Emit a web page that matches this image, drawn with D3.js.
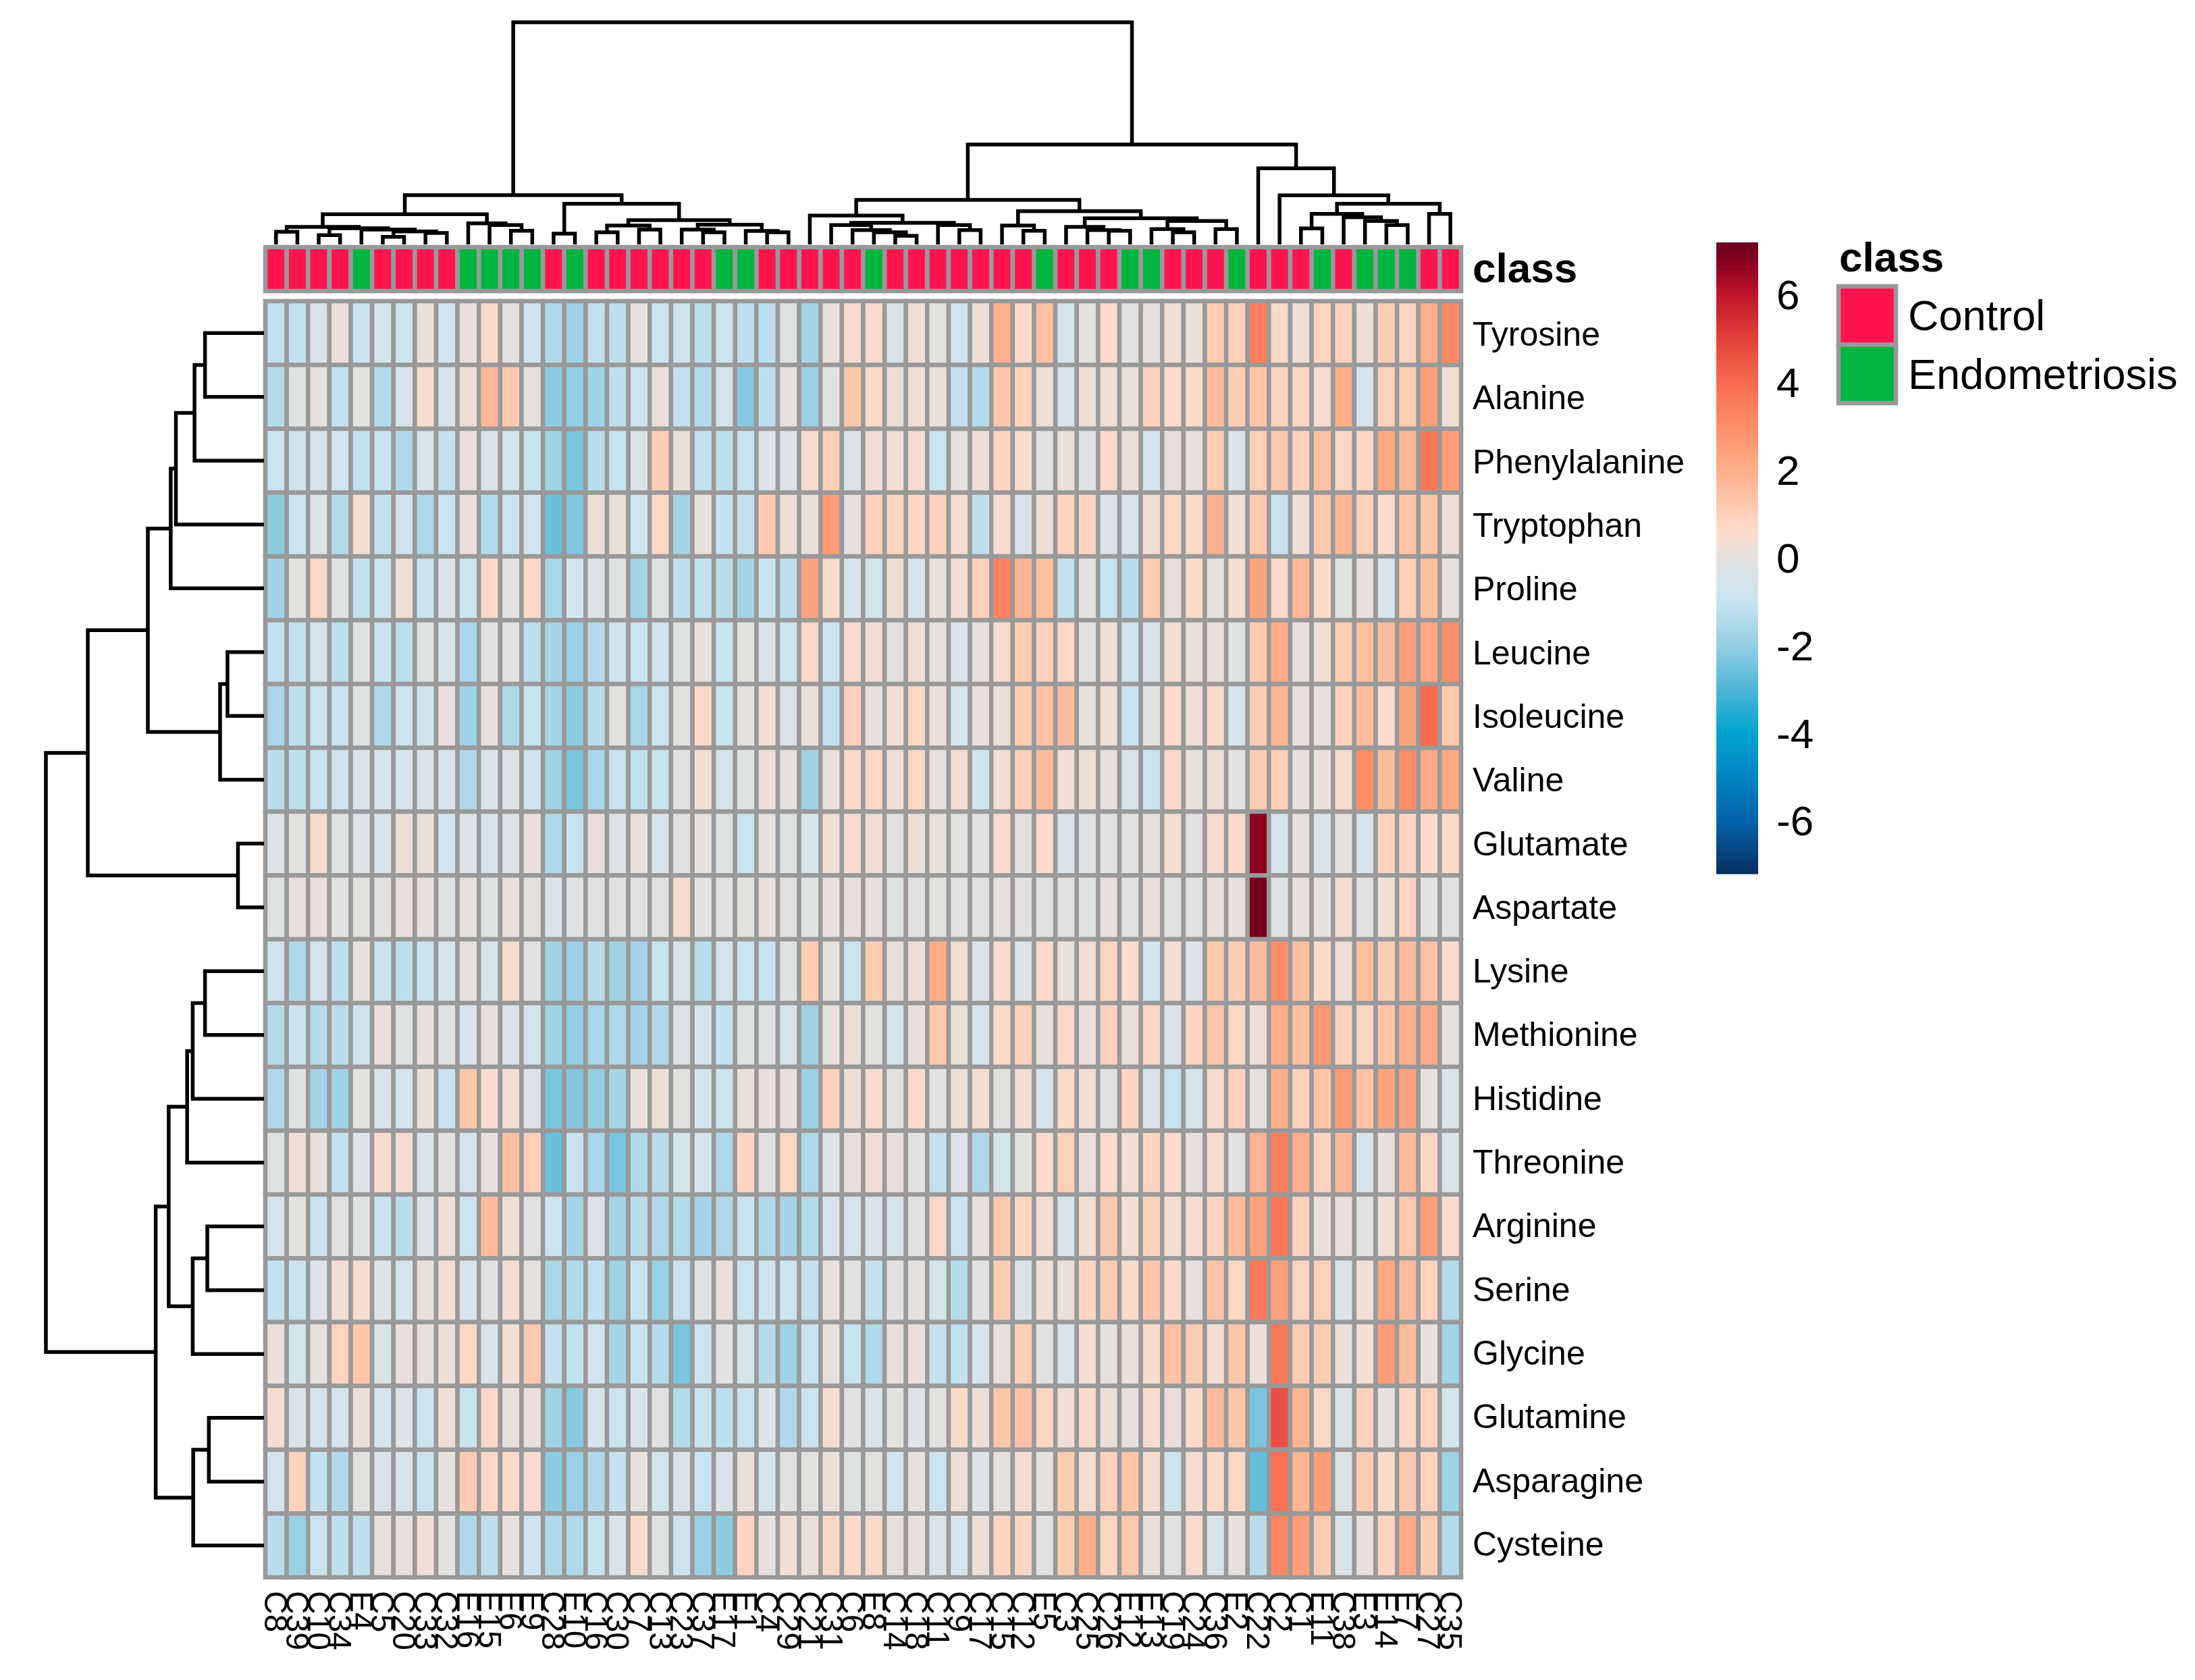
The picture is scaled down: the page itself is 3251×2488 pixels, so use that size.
<!DOCTYPE html>
<html>
<head>
<meta charset="utf-8">
<script src="https://cdn.jsdelivr.net/npm/d3@7"></script>
<style>
  html,body{margin:0;background:#fff;}
  svg{display:block;font-family:"Liberation Sans",Arial,sans-serif;filter:blur(0.7px);}
</style>
</head>
<body>
<div id="chart"></div>
<script>
const rowLabels=["Tyrosine","Alanine","Phenylalanine","Tryptophan","Proline","Leucine","Isoleucine","Valine","Glutamate","Aspartate","Lysine","Methionine","Histidine","Threonine","Arginine","Serine","Glycine","Glutamine","Asparagine","Cysteine"];
const colLabels=["C8","C39","C10","C34","E4","C5","C20","C33","C32","E16","E15","E6","E9","C28","E10","C16","C30","C7","C13","C23","C37","E17","E1","C4","C29","C21","C31","C6","E8","C14","C18","C11","C9","C17","C15","C12","E5","C3","C25","C26","E12","E13","C19","C24","C36","E2","C22","C2","C1","E11","C38","E3","E14","E7","C27","C35"];
const classNames=["Control","Endometriosis"];
const classColors=["#ff1450","#00b440"];
const colorTicks=[6,4,2,0,-2,-4,-6];

// one row per amino acid, columns in colLabels order
const values=[
[-1.1,-1.1,-0.4,0.2,-1,-0.6,-0.9,0.2,-0.6,0.1,0.6,-0.05,-0.8,-1.5,-1.8,-1.1,-1.2,0,-0.9,-0.8,-1.2,-0.9,-1.2,-1.2,-0.2,-1.7,0.2,0.5,0.5,-0.4,0.3,-0.05,-0.7,0.2,1.9,0.6,1.4,-0.6,0,0.5,-0.1,0,0.3,0.2,1.1,1,3.4,0.6,0.3,0.8,0.9,0.2,1.1,0.8,2,3.2],
[-1.4,-0.2,0,-1.1,-0.1,-1.4,-0.5,0.4,-0.4,0.2,1.7,1.2,0,-2.1,-2,-1.8,-1.2,-0.8,0.2,-1.1,-1.4,-0.6,-2.2,-1.2,0.05,-1.9,-0.05,1.3,0.6,0.2,0.3,0.2,-1.1,-1.4,1.3,0.9,0.3,-0.5,0.2,0.3,0.2,0.9,0.5,0.6,1.6,1.1,1.3,0.8,0.8,0.4,2,-0.5,0.9,1.1,2.5,0.3],
[-0.9,-0.8,-0.5,-0.7,-1.1,-1,-1.5,-0.6,-1.1,0.1,-0.4,-0.7,-1,-1.8,-2.4,-1.3,-1,-0.5,1.1,0.2,-1.1,-1.2,-1,-0.3,-0.3,0.4,1,-0.3,0.3,0.3,0.4,-0.9,0,0.2,0.8,0.5,-0.1,0.2,-0.2,0.6,0.2,-0.5,0.1,0.05,1.1,-0.4,1,1.2,0.9,1.4,0.7,0.7,2.2,1.7,3.6,2.5],
[-2.1,-0.9,-0.3,-1.4,0.4,-1.1,-0.8,-1.5,-0.9,0.2,-1.4,-0.9,-0.7,-2.6,-2.3,0.2,0.2,-0.7,0.7,-1.7,0.1,-1.1,-1.1,1.1,0.2,0.2,2.6,0,0.9,0.8,0.7,0.9,0.4,-1.2,0.4,-0.4,0.2,0.8,0.7,-0.3,-0.4,0.3,0.7,0.6,1.9,0.3,1.2,-1,0.3,1.2,1.8,1,0.5,1.3,1.3,0.2],
[-1.8,-0.1,0.7,-0.2,-1.1,-0.9,0.3,-1,-0.4,-0.9,0.7,-0.1,0.6,-1.6,-0.6,-0.3,-0.2,-1.7,-0.2,-1.2,-1.1,-1.3,-1.7,-1,-1.2,2.3,0.6,-0.5,-0.7,0.2,-0.5,0.2,0.4,1,3.3,1.8,1.5,-1.1,-0.1,-1,-1.3,1.1,0.1,0.6,0,0.4,2.3,0.6,1.7,0.6,-0.1,0.1,-0.5,1,1.5,0.1],
[-1.1,-1.1,-0.6,-1.2,-0.2,-1,-1.2,-0.2,-0.4,-1.6,-0.05,-0.1,-1.2,-1.7,-1.9,-1.4,-0.8,-0.9,-0.8,-0.2,0.1,-1,-0.1,-0.4,-0.9,0.7,-0.8,0.5,0.3,-0.05,0.3,0,-0.3,0,0.4,1.1,1,0.7,-0.05,0.3,-0.8,-0.5,0.4,0.2,0.1,-0.2,1.2,2.1,0.1,0.3,1.1,1.5,1.6,2.5,2.2,3],
[-1.6,-1.2,-0.9,-1,-0.2,-1.5,-0.9,-0.8,0.1,-1.8,0.1,-1.5,-1,-1.7,-2.1,-1.3,-0.1,-1.6,-0.9,-0.1,0.7,-1,0,0.3,-0.4,0.2,-1.1,0.9,0.1,0.3,0.7,0.2,-0.4,0.1,0.15,1.1,1.4,1.6,0.1,0.3,-1,-0.1,0.5,0.3,0.6,-0.6,1.1,1.8,0.1,0,0.9,1.6,0.5,2.3,4,1.2],
[-1.3,-1.2,-1,-0.8,-0.4,-0.5,-0.5,-0.4,-0.5,-1.5,-0.4,-0.2,-0.8,-1.8,-2.4,-1.6,-1,-1.1,-1,-0.05,0.3,-0.6,-0.2,0.2,0,-1.8,0.2,0.6,0.7,0.3,0.7,0.1,0.4,-0.8,0.3,1,1.6,0.3,0.2,0.1,-0.6,-0.9,0.6,0.15,0.2,-0.1,1.1,1,0,0.2,0.5,3,1.6,3,2.1,2.2],
[-0.3,-0.1,0.6,-0.2,-0.3,-0.5,0.2,0.15,-0.6,-0.3,-0.6,-0.2,0.1,-1.5,-1,0.1,-0.3,0.1,-0.4,-0.05,0,-0.2,-0.9,0,-0.2,-0.6,0.3,0.5,0.3,-0.1,0.2,0.15,-0.1,-0.1,0.5,-0.05,0.5,-0.5,-0.2,-0.1,-0.1,0,0.4,-0.05,0.5,0.6,6.7,-0.6,0.05,-0.4,0.05,-0.5,0.8,0.7,0.6,0.6],
[-0.2,0.1,0.1,-0.1,-0.05,-0.05,0.1,0.05,-0.2,0.05,-0.2,0.1,0,-0.5,-0.2,-0.1,-0.05,-0.05,-0.1,0.4,-0.1,-0.1,-0.05,0.05,-0.05,-0.2,0,0.1,0,-0.2,-0.05,-0.05,-0.05,-0.05,0,-0.05,-0.05,-0.05,-0.15,0.1,-0.05,0.1,-0.05,-0.05,0.1,0.05,7,-0.2,0.05,0,0.3,-0.05,0.3,0.8,-0.05,-0.05],
[-0.8,-1.5,-0.6,-1.2,0.05,-1,-1.2,-1,-0.5,0.05,-0.6,0.5,-0.15,-1.8,-1.9,-1.3,-1.8,-1.7,-1,-0.5,-1.3,-0.6,-0.9,-1,-0.2,1.1,0.05,-0.9,1.1,0.1,0.2,2,0.3,-0.4,0.5,-0.3,0.6,0.15,0.3,0.8,0.5,-0.7,0.4,-0.3,1.2,1.1,1.6,3,1.5,0.6,0.3,1.5,1.1,1.6,1.4,0.5],
[-1.4,-1,-1.4,-1.3,-0.8,0.1,-0.2,0.1,-0.2,-0.5,0.05,-0.4,-0.6,-1.8,-2,-1.6,-1.5,-1.7,-1.5,-0.3,-0.6,-1.1,-0.15,-0.2,-0.5,-1.8,0.1,0.15,-0.05,-0.5,0.1,1.2,0.15,-0.5,0.6,0.9,0.05,0.7,0.2,0.9,0.15,0.7,-0.4,0.8,1.3,0.7,0.2,2,1.5,2.7,0.9,0.8,1.3,1.9,2.1,0],
[-1.5,-0.2,-1.7,-1.8,-0.1,-0.4,-0.7,0.15,-1,1.3,0.5,0.3,-0.3,-2.4,-2.3,-2,-1.7,0.2,0.2,-0.1,-0.7,-0.9,0.15,0.1,0.1,-1.9,0.9,0.2,0.5,-0.1,0.5,-0.1,0.2,0.4,-0.05,0.3,-0.5,0.6,0.3,-0.05,0.8,-0.5,-1,-0.6,0.6,0.9,0,2,0.9,1.3,2.6,1.4,2.3,2.3,0,-0.4],
[-0.2,0.3,0.15,-1.1,-0.3,0.5,0.4,-0.4,-0.05,-0.6,0.05,1.5,1,-2.6,-1,-1.6,-2.4,-1.5,-1.3,-0.7,-0.6,-1.5,0.8,-0.05,0.7,-1.5,-0.3,0.1,0.3,0.1,-0.1,-1.1,-0.3,-1.5,-0.7,-0.1,0.5,1,0.2,0.5,0.3,0.8,0.5,0.05,0.5,-0.05,1.8,3.4,2,0.8,1.7,-0.5,0.1,1.6,0.8,-0.4],
[-0.5,-0.1,-1,-0.15,-0.2,-1,-1.3,-0.3,0.3,-0.9,1.6,0.3,-0.1,-0.9,-1.7,-0.3,-1.7,-1.3,-1.5,-1.4,-1.7,-1.5,-1,-1.5,-1.7,-1.4,-0.5,-0.6,-0.4,-0.4,-0.1,0.7,-0.9,0,1.2,0.8,0.4,-0.5,0.3,1.2,0.3,0.9,0.4,0.4,0.8,1.6,2.4,3.7,0.9,0.2,0.1,-0.1,0.3,1.2,2.5,0.5],
[-1.1,-1,-0.3,0.3,0.4,-0.3,-0.6,0.2,0.3,-0.4,-0.05,0.3,0.05,-1.6,-1.5,-1.1,-1.8,-1,-1.9,-1,-0.2,0.15,-0.9,-0.8,-0.9,-1.1,0.1,-0.05,-1.1,-0.1,0,-0.6,-1.4,-0.1,1.1,-0.4,0.3,0.2,0.8,1.1,0.6,1.3,0.6,0,1.4,0.7,3.6,2.4,0.8,1,-0.5,0.3,2.2,1.6,0.9,-1.4],
[0.15,-0.7,0.05,0.9,1.3,-0.4,0.1,0.1,0.15,0.7,-0.4,0.3,1.2,-1.1,-1.1,-0.7,-1.7,-1,-1.4,-2.4,-0.9,-0.1,-0.6,-1.4,-1.8,-1,0.1,-1,-1.5,0.1,0.2,-1.1,-1.1,-0.5,0.1,1,-0.05,-0.4,0.3,0,0.15,0.6,1.4,1.1,0.4,1.3,0.2,3.6,1.1,1.1,0.2,0.4,2.6,1.6,0.1,-1.7],
[0.4,-0.4,-0.6,-0.6,0.2,-0.5,-0.3,-0.9,0.25,-1,0.7,0.05,0.1,-1.8,-2.2,-0.6,-0.9,-0.4,-0.15,-1.4,-1,-1.2,-1,-0.3,-1.5,-0.9,0.4,-0.05,-0.5,-0.1,-0.3,-0.05,0.6,0.2,1.3,1.4,0.8,0.3,0.6,0.15,0.1,0.5,0.2,0.6,1.6,1.3,-2.4,4.6,1.8,0.7,-0.5,0.9,0,0.7,0.9,-0.7],
[-0.6,0.9,-1.1,-1.5,-0.05,-0.4,-0.5,-1,0.05,1.1,0.7,0.6,0.5,-2.1,-1.9,-1.5,-1.1,0,-0.7,-0.5,-0.9,-0.4,0.15,-0.5,-0.15,-0.05,0.15,-0.2,-0.05,-0.7,0.05,-0.9,0.2,-0.3,0.05,0.3,0.05,1.1,0.4,0.9,1.3,0.4,-0.8,0.4,0.6,0.7,-2.7,3.8,1.8,2.5,-0.4,1.1,0.6,1.2,0.9,-1.8],
[-1.3,-1.9,-0.9,-1.2,-1.2,0.1,0,0.3,-0.1,-1.5,-1.2,0,-0.8,-1.5,-1.5,-1,-0.4,0.6,-0.2,-0.8,-1.9,-2.1,0.8,0,0.3,0.2,0.7,0.6,0.6,0.1,0.1,-0.5,-0.5,0.2,0.8,0.7,-0.05,1.1,2,0.8,1.2,0.15,-0.05,0.5,-0.4,0.1,-1.3,3.2,2.5,1.1,-0.4,0.1,0.8,2.1,1.1,-1.4]
];

// colour key: value stops and the colours
const colorStops=[-7.2,-6,-5,-4,-3,-2,-1,-0.5,0,0.5,1,2,3,4,5,6,6.7,7.2];
const colorRange=["#053061","#0362ac","#0085c0","#00a4d0","#4fb7d6","#95cee3","#c8e3ef","#d8e4ea","#e4e1df","#f9dccf","#ffd0b8","#ffae8a","#ff8e68","#f96a50","#e2403a","#c0142b","#8b001f","#67001f"];

// dendrograms as [height, left, right], a bare number is a leaf index
const colTree=[329,
  [73,
    [44.7,
      [26,[18.7,0,1],[24,[13.7,2,3],[22,4,[19.3,[11.3,5,6],[17,7,8]]]]],
      [31.3,9,[28.7,10,[20.3,11,12]]]],
    [60.3,[16,13,14],
      [36,[28,[18,15,16],[22,17,18]],[29.3,[22,19,[18,20,21]],[20,22,[18,23,24]]]]]],
  [148,
    [66,
      [42.7,25,[32,[28.7,26,[21.3,27,[18,28,[12.7,29,30]]]],[28.7,31,[21.3,32,33]]]],
      [49.3,[28,34,[20.3,35,36]],
        [38.7,[26,37,[21.3,38,[20.3,39,40]]],[34.7,[22.7,41,[18,42,43]],[22.7,44,45]]]]],
    [112.7,46,[72.7,47,[60.3,[45.3,[23.7,48,49],[40.3,50,[34.7,51,[28.7,52,53]]]],[45.3,54,55]]]]]];
const rowTree=[324.3,
  [262,
    [172.7,[138.7,[131,[103.3,[87.7,0,1],2],3],4],[65.3,[54.3,5,6],7]],
    [38.7,8,9]],
  [161,
    [141.7,[114.3,[106,[87.7,10,11],12],13],[106,[84.3,14,15],16]],
    [105.3,[82,17,18],19]]];

const W=3251,H=2488;
const GRID="#999999", CELL_SW=6.5, TREE_SW=5.5;
const L=393,R=2164,T=446,B=2336;

const svg=d3.select("#chart").append("svg").attr("width",W).attr("height",H).attr("viewBox",`0 0 ${W} ${H}`);
svg.append("rect").attr("width",W).attr("height",H).attr("fill","#fff");

const xSc=d3.scaleBand().domain(colLabels).range([L,R]);
const ySc=d3.scaleBand().domain(rowLabels).range([T,B]);
const colorSc=d3.scaleLinear().domain(colorStops).range(colorRange).clamp(true);
const classSc=d3.scaleOrdinal().domain(["C","E"]).range(classColors);

// heat cells
const cells=rowLabels.flatMap((r,i)=>colLabels.map((c,j)=>({r,c,v:values[i][j]})));
svg.append("g").selectAll("rect").data(cells).join("rect")
  .attr("x",d=>xSc(d.c)).attr("y",d=>ySc(d.r))
  .attr("width",xSc.bandwidth()).attr("height",ySc.bandwidth())
  .attr("fill",d=>colorSc(d.v)).attr("stroke",GRID).attr("stroke-width",CELL_SW);

// class strip
const stripY=d3.scaleBand().domain(["class"]).range([366,431]);
svg.append("g").selectAll("rect").data(colLabels).join("rect")
  .attr("x",d=>xSc(d)).attr("y",stripY("class"))
  .attr("width",xSc.bandwidth()).attr("height",stripY.bandwidth())
  .attr("fill",d=>classSc(d[0])).attr("stroke",GRID).attr("stroke-width",CELL_SW);

// dendrograms
function treePath(node,leafPos,hSc,horizontal,out){
  if(typeof node==="number") return {p:leafPos(node),h:hSc(0)};
  const a=treePath(node[1],leafPos,hSc,horizontal,out);
  const b=treePath(node[2],leafPos,hSc,horizontal,out);
  const h=hSc(node[0]);
  out.push(horizontal
    ?`M${a.p},${a.h}V${h}H${b.p}V${b.h}`
    :`M${a.h},${a.p}H${h}V${b.p}H${b.h}`);
  return {p:(a.p+b.p)/2,h};
}
const colH=d3.scaleLinear().domain([0,329]).range([362,33]);
const rowH=d3.scaleLinear().domain([0,324.3]).range([L-2,68]);
const colSegs=[],rowSegs=[];
treePath(colTree,i=>xSc(colLabels[i])+xSc.bandwidth()/2,colH,true,colSegs);
treePath(rowTree,i=>ySc(rowLabels[i])+ySc.bandwidth()/2,rowH,false,rowSegs);
svg.append("g").selectAll("path").data(colSegs.concat(rowSegs)).join("path")
  .attr("d",d=>d).attr("fill","none").attr("stroke","#000")
  .attr("stroke-width",TREE_SW).attr("stroke-linejoin","miter");

// row labels sit on a slightly tighter pitch than the cells
const labelY=d3.scaleBand().domain(rowLabels).range([449,2335]);
const rowAxis=svg.append("g").attr("transform",`translate(${R+17},0)`)
  .call(d3.axisRight(labelY).tickSize(0).tickPadding(0));
rowAxis.select(".domain").remove();
rowAxis.selectAll("text").attr("font-size",50).attr("font-family","'Liberation Sans'").attr("fill","#000");

// column labels, rotated and overlapping like the original
const colAxis=svg.append("g").attr("transform",`translate(0,2356)`)
  .call(d3.axisBottom(xSc).tickSize(0).tickPadding(0));
colAxis.select(".domain").remove();
colAxis.selectAll("text")
  .attr("font-size",48).attr("font-family","'Liberation Sans'").attr("fill","#000")
  .attr("text-anchor","start").attr("dy",null).attr("y",0)
  .attr("dominant-baseline","central").attr("transform","rotate(90)");

svg.append("text").attr("x",R+17).attr("y",396).attr("dominant-baseline","central")
  .attr("font-size",62).attr("font-weight","bold").attr("fill","#000").text("class");

// colour bar
const barY=d3.scaleLinear().domain([7.2,-7.2]).range([359,1294]);
const barSteps=d3.range(-7.2,7.2,0.05);
svg.append("g").selectAll("rect").data(barSteps).join("rect")
  .attr("x",2542).attr("width",62)
  .attr("y",d=>barY(d+0.05)).attr("height",d=>barY(d)-barY(d+0.05)+0.6)
  .attr("fill",d=>colorSc(d));
const barAxis=svg.append("g").attr("transform","translate(2631,1)")
  .call(d3.axisRight(barY).tickValues(colorTicks).tickSize(0).tickPadding(0).tickFormat(d=>d<0?"-"+(-d):d));
barAxis.select(".domain").remove();
barAxis.selectAll("text").attr("font-size",62).attr("font-family","'Liberation Sans'").attr("fill","#000");

// class legend
svg.append("text").attr("x",2724).attr("y",380).attr("dominant-baseline","central")
  .attr("font-size",62).attr("font-weight","bold").attr("fill","#000").text("class");
const legY=d3.scaleBand().domain(classNames).range([424,597]);
const leg=svg.append("g").selectAll("g").data(classNames).join("g");
leg.append("rect").attr("x",2723).attr("y",d=>legY(d)).attr("width",85).attr("height",legY.bandwidth())
  .attr("fill",(d,i)=>classColors[i]).attr("stroke",GRID).attr("stroke-width",CELL_SW);
leg.append("text").attr("x",2826).attr("y",d=>legY(d)+legY.bandwidth()/2)
  .attr("dominant-baseline","central").attr("font-size",63).attr("fill","#000").text(d=>d);
</script>
</body>
</html>
